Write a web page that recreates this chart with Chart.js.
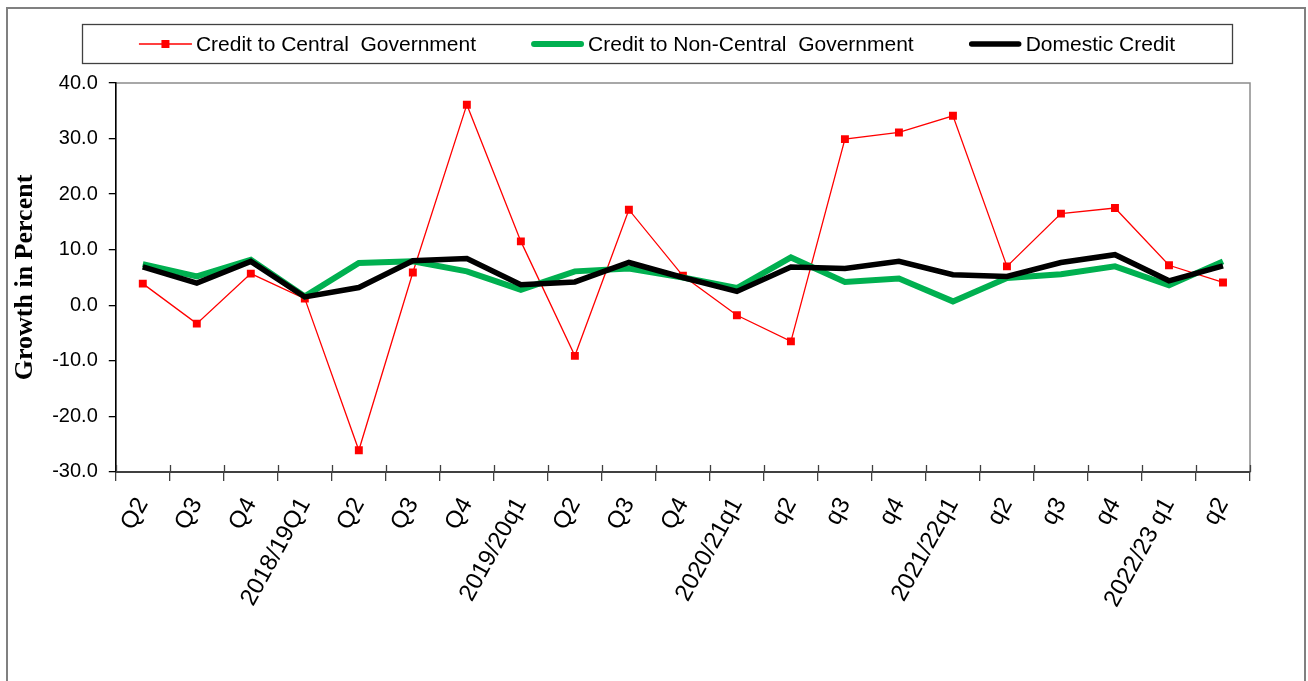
<!DOCTYPE html>
<html>
<head>
<meta charset="utf-8">
<script src="https://cdn.jsdelivr.net/npm/chart.js@4.4.1/dist/chart.umd.min.js"></script>
<style>
html,body{margin:0;padding:0;background:#fff;}
#wrap{width:1308px;height:681px;position:relative;}
</style>
</head>
<body>
<div id="wrap"><canvas id="c" width="1308" height="681"></canvas></div>
<script>
const categories = ["Q2","Q3","Q4","2018/19Q1","Q2","Q3","Q4","2019/20q1","Q2","Q3","Q4","2020/21q1","q2","q3","q4","2021/22q1","q2","q3","q4","2022/23 q1","q2"];
const centralGov = [3.9,-3.3,5.7,1.2,-26.1,5.9,36.1,11.5,-9.1,17.2,5.3,-1.8,-6.5,29.9,31.1,34.1,7.0,16.5,17.5,7.2,4.1];
const nonCentralGov = [7.4,5.2,8.2,1.6,7.6,7.9,6.1,2.8,6.1,6.6,5.0,3.1,8.6,4.2,4.8,0.7,4.9,5.6,7.0,3.6,7.9];
const domesticCredit = [6.9,4.0,7.9,1.5,3.2,8.0,8.4,3.7,4.2,7.7,5.0,2.5,6.9,6.6,7.9,5.5,5.2,7.7,9.1,4.4,7.1];
const yTicks = [-30,-20,-10,0,10,20,30,40];
const seriesNames = ["Credit to Central  Government","Credit to Non-Central  Government","Domestic Credit"];

const frame = {
  id:'frame',
  beforeDraw(chart){
    const ctx = chart.ctx, a = chart.chartArea;
    ctx.save();
    ctx.fillStyle = '#fff';
    ctx.fillRect(0,0,chart.width,chart.height);
    ctx.strokeStyle = '#808080';
    ctx.lineWidth = 2;
    ctx.strokeRect(7, 8, 1298, 700);
    ctx.lineWidth = 1.5;
    ctx.strokeStyle = '#8c8c8c';
    ctx.strokeRect(a.left, a.top, a.right - a.left, a.bottom - a.top);
    ctx.restore();
  },
  afterDraw(chart){
    const ctx = chart.ctx, a = chart.chartArea, xs = chart.scales.x;
    ctx.save();
    ctx.strokeStyle = '#404040';
    ctx.lineWidth = 1.3;
    for (let i = 0; i <= categories.length; i++) {
      const x = Math.round(xs.getPixelForValue(i - 0.5)) + 0.5;
      ctx.beginPath();
      ctx.moveTo(x, a.bottom - 7);
      ctx.lineTo(x, a.bottom);
      ctx.stroke();
    }
    const bx = 82, by = 24, bw = 1150, bh = 39;
    ctx.strokeStyle = '#404040';
    ctx.lineWidth = 1.3;
    ctx.strokeRect(bx + 0.5, by + 0.5, bw, bh);
    ctx.font = '21px "Liberation Sans", Arial, sans-serif';
    ctx.textBaseline = 'middle';
    const sample = 53, gap1 = 4, gap2 = 55;
    const ds = chart.data.datasets;
    const widths = ds.map(d => ctx.measureText(d.label).width);
    let total = 0;
    widths.forEach((w, i) => { total += sample + gap1 + w + (i < widths.length - 1 ? gap2 : 0); });
    let x = bx + bw / 2 - total / 2;
    const cy = by + bh / 2 + 0.5;
    const lw = [1.3, 6, 5.5];
    ds.forEach((d, i) => {
      ctx.strokeStyle = d.borderColor;
      ctx.lineWidth = lw[i];
      ctx.lineCap = i === 0 ? 'butt' : 'round';
      ctx.beginPath();
      ctx.moveTo(x + (i === 0 ? 0 : 3), cy);
      ctx.lineTo(x + sample - (i === 0 ? 0 : 3), cy);
      ctx.stroke();
      if (d.pointRadius > 0) {
        ctx.fillStyle = d.pointBackgroundColor;
        ctx.fillRect(x + sample / 2 - 4, cy - 4, 8, 8);
      }
      ctx.fillStyle = '#000';
      ctx.fillText(d.label, x + sample + gap1, cy + 1);
      x += sample + gap1 + widths[i] + gap2;
    });
    ctx.restore();
  }
};

new Chart(document.getElementById('c'), {
  type: 'line',
  data: {
    labels: categories,
    datasets: [
      {label: seriesNames[0], data: centralGov, borderColor:'#FF0000', backgroundColor:'#FF0000', pointBackgroundColor:'#FF0000', pointBorderColor:'#FF0000', borderWidth:1.3, pointStyle:'rect', pointRadius:5.6, pointBorderWidth:0, tension:0, order:3},
      {label: seriesNames[1], data: nonCentralGov, borderColor:'#00B050', backgroundColor:'#00B050', borderWidth:6, pointRadius:0, tension:0, borderJoinStyle:'miter', order:2},
      {label: seriesNames[2], data: domesticCredit, borderColor:'#000000', backgroundColor:'#000000', borderWidth:5.5, pointRadius:0, tension:0, borderJoinStyle:'miter', order:1}
    ]
  },
  options: {
    responsive: false,
    animation: false,
    devicePixelRatio: 1,
    layout: {padding: {top: 83, right: 58, bottom: 57, left: 10}},
    plugins: {legend: {display: false}, tooltip: {enabled: false}},
    scales: {
      x: {
        offset: true,
        grid: {offset: true, drawOnChartArea: false, drawTicks: true, tickLength: 9, color: '#404040', lineWidth: 1.3},
        border: {display: true, color: '#404040', width: 2},
        ticks: {autoSkip: false, minRotation: 61, maxRotation: 61, color: '#000', padding: 12,
                font: {family: '"Liberation Sans", Arial, sans-serif', size: 24}}
      },
      y: {
        min: -30, max: 40,
        afterBuildTicks(scale){ scale.ticks = yTicks.map(v => ({value: v})); },
        grid: {drawOnChartArea: false, drawTicks: true, tickLength: 7, color: '#000', lineWidth: 1.3},
        border: {display: true, color: '#000', width: 1.5},
        ticks: {color: '#000', padding: 11, callback: v => Number(v).toFixed(1),
                font: {family: '"Liberation Sans", Arial, sans-serif', size: 20}},
        title: {display: true, text: 'Growth in Percent', color: '#000', padding: {top: 0, bottom: 0},
                font: {family: '"Liberation Serif", "Times New Roman", serif', size: 26, weight: 'bold'}}
      }
    }
  },
  plugins: [frame]
});
</script>
</body>
</html>
